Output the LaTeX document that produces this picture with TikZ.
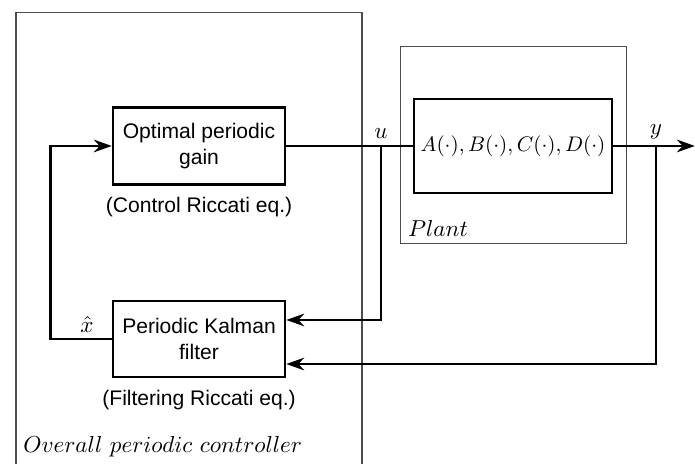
\documentclass[tikz,border=0pt]{standalone}
\usepackage{fontspec}
\setsansfont{Liberation Sans}
\usepackage{amsmath}
\usetikzlibrary{positioning,arrows.meta}

\begin{document}
\begin{tikzpicture}[font=\sffamily,
  blk/.style={draw, line width=1.2pt, align=center, inner sep=2pt},
  frm/.style={draw=black!70, line width=0.5pt},
  tag/.style={font=\fontsize{11}{13}\selectfont},
  sig/.style={line width=1.2pt},
  arr/.style={sig, -{Stealth[length=8.5pt, width=6pt]}}]
\useasboundingbox (0,0) rectangle (11.583,7.733);
\draw[frm] (0.267,-0.1) |- (6.033,7.517) -- (6.033,-0.1);
\draw[frm] (6.678,3.667) rectangle (10.445,6.95);
\node[blk, minimum width=2.867cm, minimum height=1.283cm] (gain) at (3.317,5.3) {Optimal periodic\\gain};
\node[blk, minimum width=2.867cm, minimum height=1.267cm] (filt) at (3.317,2.083) {Periodic Kalman\\filter};
\node[blk, minimum width=3.3cm, minimum height=1.567cm] (plant) at (8.55,5.3) {$A(\cdot), B(\cdot), C(\cdot), D(\cdot)$};
\node[below=2pt of gain] (gainnote) {(Control Riccati eq.)};
\node[below=2pt of filt] (filtnote) {(Filtering Riccati eq.)};
\node[tag, anchor=south west] (plantlab) at (6.678,3.667) {$Plant$};
\node[tag, anchor=south west] (ctrllab) at (0.267,0) {$Overall\ periodic\ controller$};
\coordinate (uj) at (6.35,5.3);
\coordinate (yj) at (10.933,5.3);
\coordinate (yout) at (11.58,5.3);
\node[tag, above=0pt of uj] (ulab) {$u$};
\node[tag, above=0pt of yj] (ylab) {$y$};
\node[tag] (xlab) at (1.45,2.32) {$\hat{x}$};
\draw[sig] (gain.east) -- (plant.west);
\draw[arr] (plant.east) -- (yout);
\draw[arr] (uj) |- ([yshift=0.317cm]filt.east);
\draw[arr] (yj) |- ([yshift=-0.417cm]filt.east);
\draw[arr] (filt.west) -- ++(-1.017,0) |- (gain.west);
\end{tikzpicture}
\end{document}
